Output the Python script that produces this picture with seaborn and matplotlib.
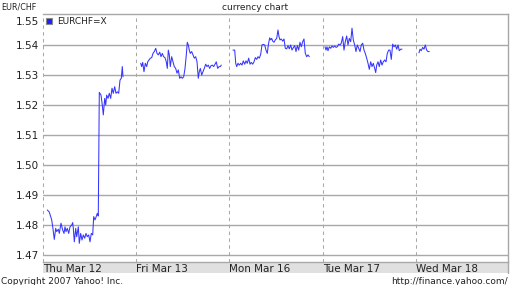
import matplotlib
matplotlib.use("Agg")
import matplotlib.pyplot as plt
import matplotlib.transforms as mtransforms
from matplotlib.lines import Line2D
from matplotlib.patches import Rectangle
import seaborn as sns
import pandas as pd

# ---- data (hours since 00:00 of each day, EUR/CHF rate) ----
day_labels = ["Thu Mar 12", "Fri Mar 13", "Mon Mar 16", "Tue Mar 17", "Wed Mar 18"]
y_ticks = [1.47, 1.48, 1.49, 1.50, 1.51, 1.52, 1.53, 1.54]
series_name = "EURCHF=X"

thu_h = [1.11, 1.62, 2.24, 2.50, 2.91, 3.27, 3.53, 3.94, 4.20, 4.63, 5.07, 5.41, 5.66, 5.92,
         6.25, 6.61, 6.95, 7.39, 7.64, 7.80, 8.06, 8.42, 8.67, 9.09, 9.34, 9.70, 10.04, 10.37,
         10.73, 11.07, 11.40, 11.76, 12.10, 12.43, 12.79, 13.05, 13.38, 13.64, 13.98, 14.23,
         14.49, 14.93, 15.26, 15.52, 15.88, 16.14, 16.39, 16.73, 17.06, 17.42, 17.76, 18.09,
         18.45, 18.79, 19.12, 19.48, 19.82, 20.15, 20.41, 20.59]
thu_v = [1.4850, 1.4843, 1.4817, 1.4794, 1.4752, 1.4789, 1.4778, 1.4786, 1.4772, 1.4806,
         1.4783, 1.4772, 1.4794, 1.4778, 1.4789, 1.4772, 1.4794, 1.4800, 1.4808, 1.4789,
         1.4744, 1.4789, 1.4761, 1.4794, 1.4739, 1.4772, 1.4750, 1.4767, 1.4756, 1.4772,
         1.4761, 1.4767, 1.4744, 1.4772, 1.4767, 1.4828, 1.4817, 1.4826, 1.4839, 1.4830,
         1.5242, 1.5233, 1.5200, 1.5167, 1.5222, 1.5200, 1.5233, 1.5222, 1.5239, 1.5222,
         1.5256, 1.5239, 1.5261, 1.5239, 1.5244, 1.5239, 1.5283, 1.5289, 1.5328, 1.5294]

fri_h = [1.15, 1.40, 1.66, 1.99, 2.33, 2.69, 2.95, 3.28, 3.62, 3.98, 4.31, 4.65, 5.01, 5.34,
         5.68, 6.04, 6.37, 6.70, 7.06, 7.40, 7.73, 7.99, 8.25, 8.51, 8.76, 9.12, 9.46, 9.79,
         10.15, 10.49, 10.82, 11.18, 11.52, 11.85, 12.21, 12.55, 12.88, 13.14, 13.40, 13.65,
         13.91, 14.27, 14.61, 14.94, 15.30, 15.64, 15.97, 16.23, 16.49, 16.85, 17.18, 17.51,
         17.87, 18.21, 18.54, 18.90, 19.24, 19.57, 19.93, 20.27, 20.60, 20.96, 21.30, 21.63,
         21.89]
fri_v = [1.5339, 1.5328, 1.5342, 1.5311, 1.5339, 1.5328, 1.5344, 1.5350, 1.5356, 1.5358,
         1.5372, 1.5378, 1.5389, 1.5372, 1.5367, 1.5376, 1.5361, 1.5372, 1.5361, 1.5358,
         1.5344, 1.5322, 1.5383, 1.5367, 1.5328, 1.5361, 1.5344, 1.5328, 1.5322, 1.5306,
         1.5317, 1.5289, 1.5294, 1.5289, 1.5294, 1.5322, 1.5367, 1.5409, 1.5400, 1.5383,
         1.5372, 1.5378, 1.5367, 1.5356, 1.5361, 1.5344, 1.5289, 1.5311, 1.5322, 1.5300,
         1.5311, 1.5322, 1.5336, 1.5328, 1.5333, 1.5322, 1.5331, 1.5333, 1.5328, 1.5336,
         1.5344, 1.5322, 1.5328, 1.5328, 1.5333]

mon_h = [0.90, 1.34, 1.60, 1.85, 2.19, 2.52, 2.88, 3.22, 3.55, 3.91, 4.25, 4.58, 4.94, 5.28,
         5.61, 5.97, 6.31, 6.64, 7.00, 7.34, 7.67, 8.03, 8.36, 8.70, 9.06, 9.39, 9.73, 9.99,
         10.35, 10.60, 10.86, 11.12, 11.45, 11.79, 12.15, 12.48, 12.74, 13.00, 13.33, 13.69,
         14.03, 14.36, 14.72, 15.06, 15.39, 15.75, 16.09, 16.42, 16.78, 17.12, 17.45, 17.81,
         18.14, 18.48, 18.84, 19.17, 19.51, 19.87, 20.20, 20.54]
mon_v = [1.5383, 1.5383, 1.5339, 1.5328, 1.5339, 1.5333, 1.5339, 1.5333, 1.5347, 1.5336,
         1.5347, 1.5339, 1.5356, 1.5336, 1.5342, 1.5336, 1.5344, 1.5358, 1.5352, 1.5361,
         1.5356, 1.5369, 1.5400, 1.5402, 1.5400, 1.5383, 1.5372, 1.5400, 1.5424, 1.5417,
         1.5422, 1.5413, 1.5409, 1.5417, 1.5422, 1.5450, 1.5428, 1.5417, 1.5420, 1.5413,
         1.5420, 1.5389, 1.5387, 1.5398, 1.5387, 1.5400, 1.5383, 1.5391, 1.5398, 1.5378,
         1.5398, 1.5383, 1.5409, 1.5394, 1.5411, 1.5420, 1.5372, 1.5361, 1.5367, 1.5361]

tue_h = [0.58, 0.84, 1.09, 1.35, 1.69, 2.05, 2.38, 2.72, 3.08, 3.41, 3.74, 4.11, 4.44, 4.77,
         5.13, 5.47, 5.80, 6.16, 6.50, 6.83, 7.19, 7.53, 7.86, 8.22, 8.56, 8.89, 9.25, 9.59,
         9.92, 10.28, 10.62, 10.95, 11.31, 11.65, 11.98, 12.34, 12.68, 13.01, 13.37, 13.63,
         13.89, 14.22, 14.55, 14.91, 15.25, 15.58, 15.94, 16.28, 16.61, 16.97, 17.31, 17.64,
         18.00, 18.34, 18.67, 19.03, 19.37, 19.70, 20.06, 20.40]
tue_v = [1.5394, 1.5383, 1.5394, 1.5381, 1.5394, 1.5389, 1.5397, 1.5392, 1.5397, 1.5392,
         1.5394, 1.5403, 1.5400, 1.5406, 1.5428, 1.5383, 1.5411, 1.5430, 1.5400, 1.5422,
         1.5411, 1.5456, 1.5417, 1.5400, 1.5378, 1.5400, 1.5389, 1.5378, 1.5400, 1.5406,
         1.5383, 1.5372, 1.5356, 1.5339, 1.5319, 1.5344, 1.5328, 1.5339, 1.5322, 1.5308,
         1.5333, 1.5344, 1.5328, 1.5350, 1.5333, 1.5344, 1.5350, 1.5344, 1.5372, 1.5383,
         1.5383, 1.5352, 1.5403, 1.5394, 1.5400, 1.5386, 1.5400, 1.5381, 1.5386, 1.5386]

wed_h = [0.77, 1.03, 1.36, 1.72, 2.06, 2.39, 2.75, 3.09, 3.42]
wed_v = [1.5374, 1.5386, 1.5381, 1.5392, 1.5386, 1.5400, 1.5383, 1.5378, 1.5378]

# ---- build table ----
days_h = [thu_h, fri_h, mon_h, tue_h, wed_h]
days_v = [thu_v, fri_v, mon_v, tue_v, wed_v]
rows = []
for i, (hs, vs) in enumerate(zip(days_h, days_v)):
    for h, v in zip(hs, vs):
        rows.append({"t": i * 24 + h, "rate": v, "day": day_labels[i]})
df = pd.DataFrame(rows)

sns.set_style("white")
plt.rcParams["font.family"] = ["DejaVu Sans"]

W, H = 512, 285
fig = plt.figure(figsize=(W / 100, H / 100), dpi=100)

# grey band behind day labels (added before the axes so it sits underneath)
ax_l, ax_r, ax_t, ax_b = 43, 508, 14, 262
band = Rectangle((ax_l / W, 1 - 273 / H), (ax_r - ax_l) / W, 11 / H,
                 transform=fig.transFigure, facecolor="#e0e0e0", edgecolor="none", zorder=-5)
fig.patches.append(band)

ax = fig.add_axes([ax_l / W, 1 - ax_b / H, (ax_r - ax_l) / W, (ax_b - ax_t) / H])
ax.patch.set_alpha(0)

grid_c = "#a8a8a8"
line_c = "#3535ff"

sns.lineplot(data=df, x="t", y="rate", units="day", estimator=None,
             color=line_c, linewidth=0.75, ax=ax, legend=False)

ax.set_xlim(0, 119.68)
ax.set_ylim(1.46767, 1.55033)

ax.set_yticks(y_ticks)
ax.set_yticklabels([f"{v:.2f}" for v in y_ticks], fontsize=7.5, color="#222222")
ax.set_xticks([i * 24 for i in range(len(day_labels))])
ax.set_xticklabels(day_labels, fontsize=7.5, color="#222222", ha="left")
ax.tick_params(axis="both", length=0)
ax.tick_params(axis="y", pad=3)
ax.tick_params(axis="x", pad=1.2)

ax.grid(axis="y", color=grid_c, linewidth=1.0, linestyle="-")
ax.grid(axis="x", color=grid_c, linewidth=0.75, linestyle=(0, (3.3, 3.3)))
for gl in ax.get_xgridlines():
    gl.set_clip_on(False)
ax.set_axisbelow(True)
ax.set_xlabel("")
ax.set_ylabel("")

for s in ["top", "right", "bottom"]:
    ax.spines[s].set_visible(True)
    ax.spines[s].set_color(grid_c)
    ax.spines[s].set_linewidth(1.0)
ax.spines["left"].set_visible(False)

# 1.55 label sits a little lower than its level
ax.text(-0.0075, 1.5475, "1.55", fontsize=7.5, color="#222222",
        ha="right", va="center",
        transform=mtransforms.blended_transform_factory(ax.transAxes, ax.transData))

fig.add_artist(Line2D([ax_r / W, ax_r / W], [1 - 273 / H, 1 - ax_b / H],
                      transform=fig.transFigure, color=grid_c, linewidth=1.0))

# legend
handle = Line2D([], [], marker="s", linestyle="none", markersize=5,
                markerfacecolor="#2020ff", markeredgecolor="#8a8a8a", markeredgewidth=0.8)
leg = ax.legend([handle], [series_name], loc="upper left", frameon=False, fontsize=6.5,
                handlelength=0.7, handletextpad=0.5, borderaxespad=0.15, borderpad=0.2)
for t in leg.get_texts():
    t.set_color("#222222")

# header / footer texts
fig.text(1 / W, 1 - 7.5 / H, "EUR/CHF", fontsize=5.8, ha="left", va="center", color="#222222")
fig.text(255 / W, 1 - 8 / H, "currency chart", fontsize=6.5, ha="center", va="center",
         color="#222222")
fig.text(1 / W, 1 - 281 / H, "Copyright 2007 Yahoo! Inc.", fontsize=6.5, ha="left",
         va="center", color="#222222")
fig.text(508 / W, 1 - 281 / H, "http://finance.yahoo.com/", fontsize=6.5, ha="right",
         va="center", color="#222222")

fig.savefig("out.png", dpi=100, facecolor="white")
